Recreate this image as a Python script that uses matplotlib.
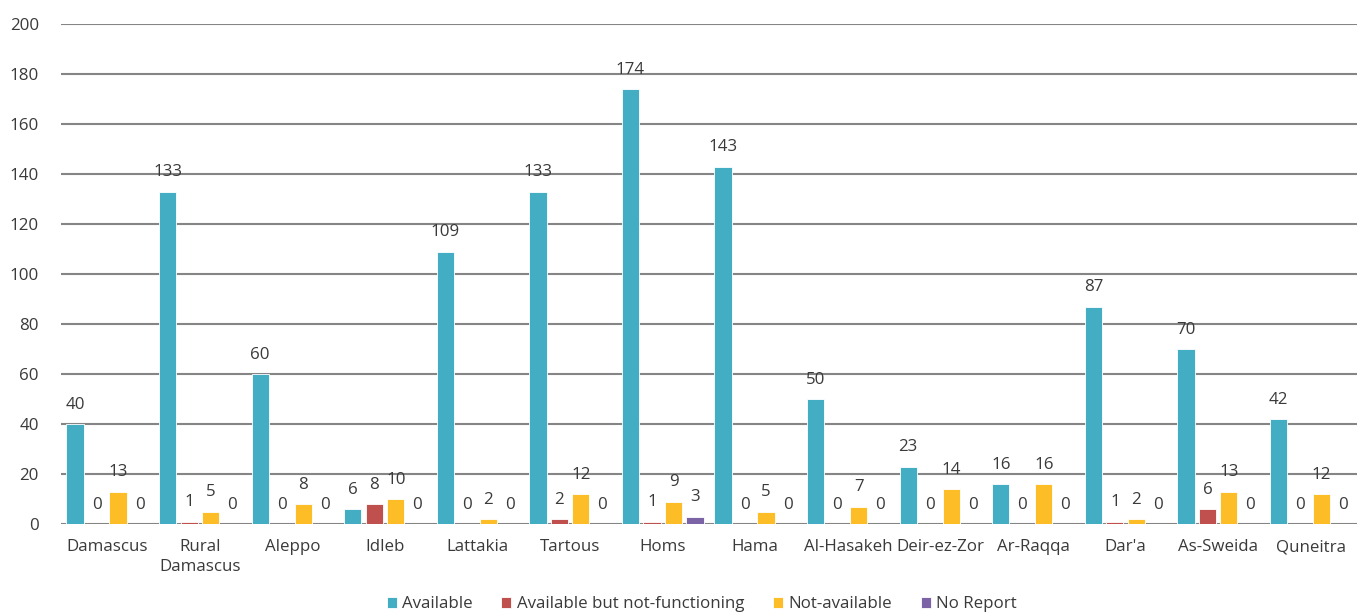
import matplotlib.pyplot as plt
import numpy as np

plt.rcParams['font.family'] = ['Open Sans', 'DejaVu Sans']

regions = ['Damascus', 'Rural\nDamascus', 'Aleppo', 'Idleb', 'Lattakia', 'Tartous', 'Homs',
           'Hama', 'Al-Hasakeh', 'Deir-ez-Zor', 'Ar-Raqqa', "Dar'a", 'As-Sweida', 'Quneitra']
available = [40, 133, 60, 6, 109, 133, 174, 143, 50, 23, 16, 87, 70, 42]
not_functioning = [0, 1, 0, 8, 0, 2, 1, 0, 0, 0, 0, 1, 6, 0]
not_available = [13, 5, 8, 10, 2, 12, 9, 5, 7, 14, 16, 2, 13, 12]
no_report = [0, 0, 0, 0, 0, 0, 3, 0, 0, 0, 0, 0, 0, 0]

series = [
    ('Available', available, '#43adc4'),
    ('Available but not-functioning', not_functioning, '#c0504d'),
    ('Not-available', not_available, '#fdbd27'),
    ('No Report', no_report, '#7b63a6'),
]

fig = plt.figure(figsize=(13.57, 6.14), dpi=100)
ax = fig.add_axes([61 / 1357, 1 - 524 / 614, 1 - 61 / 1357, 500 / 614])

x = np.arange(len(regions))
step = 0.232
width = 0.186
txt = '#3a3a3a'
fs = 12.2
for i, (name, vals, col) in enumerate(series):
    pos = x + (i - 1.5) * step
    ax.bar(pos, vals, width, color=col, edgecolor='white', linewidth=0.6, label=name, zorder=3)
    for p, v in zip(pos, vals):
        ax.text(p, v + 4.5, str(v), ha='center', va='bottom', fontsize=fs, color=txt, zorder=4)

ax.set_ylim(0, 200)
ax.set_xlim(-0.5, len(regions) - 0.5)
ax.set_yticks(np.arange(0, 201, 20))
ax.yaxis.grid(True, color='#858585', linewidth=1.5, zorder=0)
ax.set_axisbelow(True)
for s in ax.spines.values():
    s.set_visible(False)
ax.tick_params(axis='both', length=0, labelsize=fs, colors=txt)
ax.tick_params(axis='y', pad=16)
ax.set_xticks(x)
ax.set_xticklabels(regions, linespacing=1.35)
ax.tick_params(axis='x', pad=11)

fig.legend(loc='lower center', bbox_to_anchor=(0.517, -0.022), ncol=4, frameon=False,
           fontsize=fs, handlelength=0.6, handleheight=0.6, handletextpad=0.3,
           columnspacing=1.7, labelcolor=txt)

fig.savefig('out.png', dpi=100)
